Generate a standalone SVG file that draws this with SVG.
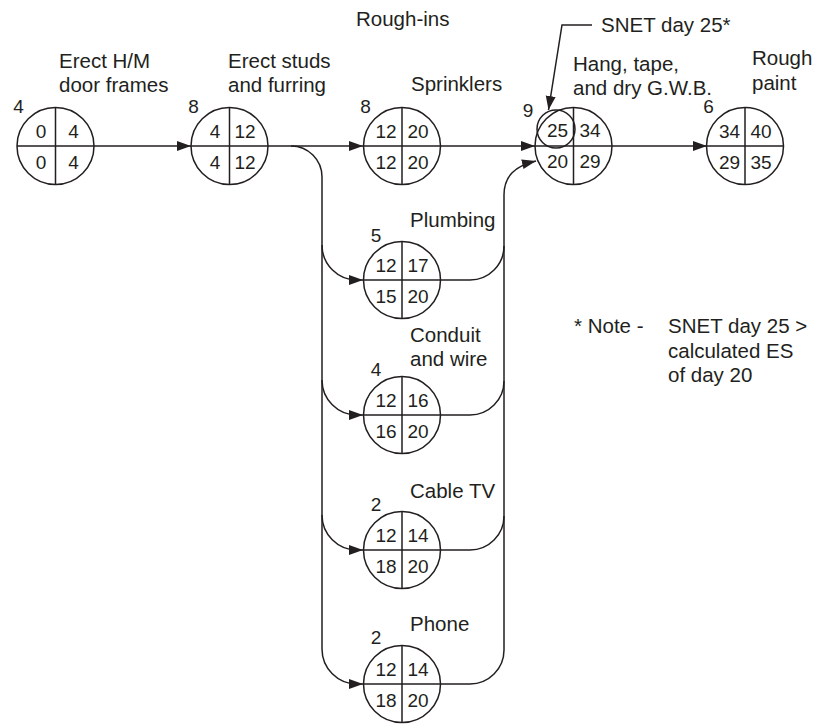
<svg xmlns="http://www.w3.org/2000/svg" width="818" height="724" viewBox="0 0 818 724">
<defs>
<marker id="ah" markerUnits="userSpaceOnUse" markerWidth="16" markerHeight="12" refX="14" refY="5" orient="auto">
<path d="M0,0 L14,5 L0,10 z" fill="#231f20"/>
</marker>
<style>
.c{fill:#fff;stroke:#231f20;stroke-width:1.5}
.d{stroke:#231f20;stroke-width:1.5;fill:none}
.e{fill:none;stroke:#231f20;stroke-width:1.5}
text{font-family:"Liberation Sans",Arial,sans-serif;fill:#231f20}
.n{font-size:19px;text-anchor:middle}
.l{font-size:20.5px}
</style>
</defs>
<rect width="818" height="724" fill="#fff"/>
<g id="connectors" class="e">
<path d="M94,146 L191,146" marker-end="url(#ah)"/>
<path d="M268,146 L363,146" marker-end="url(#ah)"/>
<path d="M441,146 L535,146" marker-end="url(#ah)"/>
<path d="M612,146 L707,146" marker-end="url(#ah)"/>
<path d="M291,146 A31,31 0 0 1 322,177 L322,649"/>
<path d="M322,245 A35,35 0 0 0 357,280 L363,280" marker-end="url(#ah)"/>
<path d="M322,380 A35,35 0 0 0 357,415 L363,415" marker-end="url(#ah)"/>
<path d="M322,515 A35,35 0 0 0 357,550 L363,550" marker-end="url(#ah)"/>
<path d="M322,649 A35,35 0 0 0 357,684 L363,684" marker-end="url(#ah)"/>
<path d="M441,280 L470,280 A34,34 0 0 0 504,246"/>
<path d="M441,415 L470,415 A34,34 0 0 0 504,381"/>
<path d="M441,550 L470,550 A34,34 0 0 0 504,516"/>
<path d="M441,684 L470,684 A34,34 0 0 0 504,650"/>
<path d="M504,650 L504,195 C504,176 515,166 536,161" marker-end="url(#ah)"/>
<path d="M592,25 L562,25 L548.5,110" marker-end="url(#ah)"/>
</g>
<g id="n1">
<circle class="c" cx="55.5" cy="146" r="38.5"/>
<path class="d" d="M17,146 H94 M55.5,107.5 V184.5"/>
<text class="n" x="18.5" y="113">4</text>
<text class="n" x="41" y="138">0</text><text class="n" x="73.5" y="138">4</text>
<text class="n" x="41" y="169">0</text><text class="n" x="73.5" y="169">4</text>
<text class="l" x="59" y="68">Erect H/M</text>
<text class="l" x="59" y="92">door frames</text>
</g>
<g id="n2">
<circle class="c" cx="229.5" cy="146" r="38.5"/>
<path class="d" d="M191,146 H268 M229.5,107.5 V184.5"/>
<text class="n" x="193.5" y="113">8</text>
<text class="n" x="215" y="138">4</text><text class="n" x="245" y="138">12</text>
<text class="n" x="215" y="169">4</text><text class="n" x="245" y="169">12</text>
<text class="l" x="228" y="68">Erect studs</text>
<text class="l" x="228" y="92">and furring</text>
</g>
<g id="label-roughins">
<text class="l" x="356" y="26">Rough-ins</text>
</g>
<g id="n3">
<circle class="c" cx="402" cy="146" r="38.5"/>
<path class="d" d="M363.5,146 H440.5 M402,107.5 V184.5"/>
<text class="n" x="365.5" y="113">8</text>
<text class="n" x="386" y="138">12</text><text class="n" x="418" y="138">20</text>
<text class="n" x="386" y="169">12</text><text class="n" x="418" y="169">20</text>
<text class="l" x="411" y="91">Sprinklers</text>
</g>
<g id="n4">
<circle class="c" cx="573.5" cy="146" r="38.5"/>
<path class="d" d="M535,146 H612 M573.5,107.5 V184.5"/>
<circle class="e" cx="556" cy="129" r="19"/>
<text class="n" x="528" y="116.5">9</text>
<text class="n" x="557.5" y="137">25</text><text class="n" x="590" y="137">34</text>
<text class="n" x="557.5" y="168">20</text><text class="n" x="590" y="168">29</text>
<text class="l" x="573" y="71">Hang, tape,</text>
<text class="l" x="573" y="95">and dry G.W.B.</text>
<text class="l" x="601" y="32">SNET day 25*</text>
</g>
<g id="n5">
<circle class="c" cx="745" cy="146" r="38.5"/>
<path class="d" d="M706.5,146 H783.5 M745,107.5 V184.5"/>
<text class="n" x="708.5" y="113">6</text>
<text class="n" x="729.5" y="138">34</text><text class="n" x="761" y="138">40</text>
<text class="n" x="729.5" y="169">29</text><text class="n" x="761" y="169">35</text>
<text class="l" x="752" y="65">Rough</text>
<text class="l" x="752" y="90">paint</text>
</g>
<g id="plumbing">
<circle class="c" cx="402" cy="280" r="38.5"/>
<path class="d" d="M363.5,280 H440.5 M402,241.5 V318.5"/>
<text class="n" x="376" y="242">5</text>
<text class="n" x="386" y="272">12</text><text class="n" x="418" y="272">17</text>
<text class="n" x="386" y="303">15</text><text class="n" x="418" y="303">20</text>
<text class="l" x="410" y="227">Plumbing</text>
</g>
<g id="conduit">
<circle class="c" cx="402" cy="415" r="38.5"/>
<path class="d" d="M363.5,415 H440.5 M402,376.5 V453.5"/>
<text class="n" x="376" y="376">4</text>
<text class="n" x="386" y="407">12</text><text class="n" x="418" y="407">16</text>
<text class="n" x="386" y="438">16</text><text class="n" x="418" y="438">20</text>
<text class="l" x="410" y="342">Conduit</text>
<text class="l" x="410" y="366">and wire</text>
</g>
<g id="cabletv">
<circle class="c" cx="402" cy="550" r="38.5"/>
<path class="d" d="M363.5,550 H440.5 M402,511.5 V588.5"/>
<text class="n" x="376" y="511">2</text>
<text class="n" x="386" y="542">12</text><text class="n" x="418" y="542">14</text>
<text class="n" x="386" y="573">18</text><text class="n" x="418" y="573">20</text>
<text class="l" x="410" y="498">Cable TV</text>
</g>
<g id="phone">
<circle class="c" cx="402" cy="684" r="38.5"/>
<path class="d" d="M363.5,684 H440.5 M402,645.5 V722.5"/>
<text class="n" x="376" y="644">2</text>
<text class="n" x="386" y="676">12</text><text class="n" x="418" y="676">14</text>
<text class="n" x="386" y="707">18</text><text class="n" x="418" y="707">20</text>
<text class="l" x="410" y="631">Phone</text>
</g>
<g id="note">
<text class="l" x="574" y="333">* Note -</text>
<text class="l" x="668" y="333">SNET day 25 &gt;</text>
<text class="l" x="668" y="357.5">calculated ES</text>
<text class="l" x="668" y="382">of day 20</text>
</g>
</svg>
